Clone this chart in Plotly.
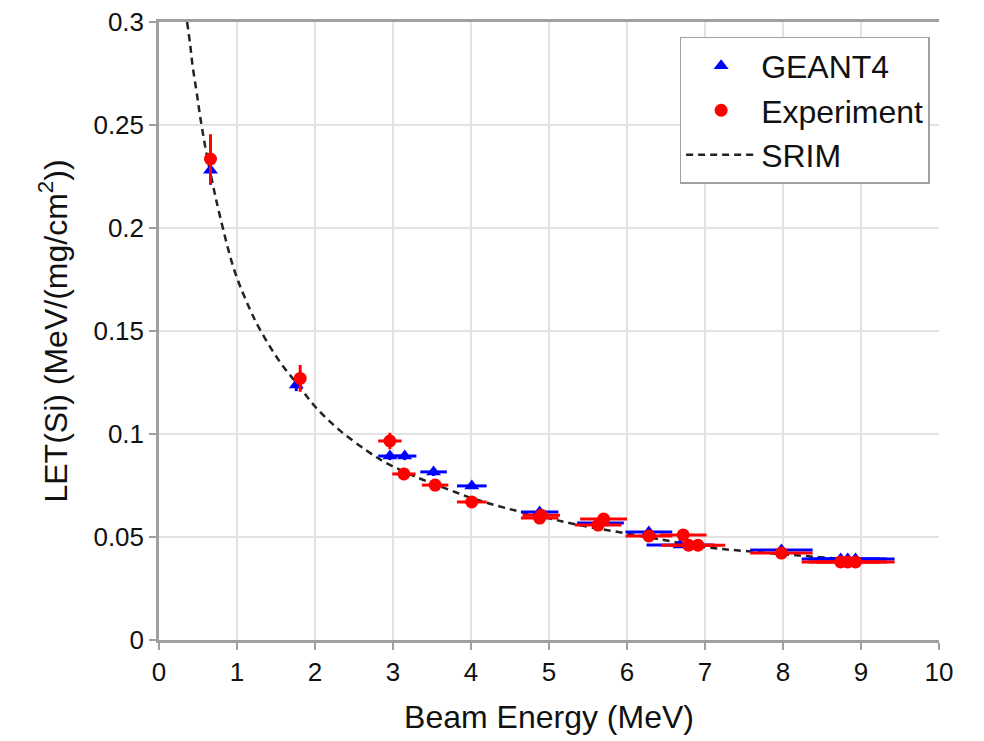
import plotly.graph_objects as go

# SRIM curve
srim_e = [0.36, 0.40, 0.43, 0.49, 0.52, 0.59, 0.68, 0.78, 0.97, 1.16, 1.29, 1.55, 1.80, 2.02, 2.31,
          2.66, 2.91, 3.33, 3.68, 4.01, 4.44, 4.99, 5.38, 5.89, 6.40, 7.00, 7.51, 8.21, 8.60, 9.00]
srim_let = [0.300, 0.289, 0.279, 0.264, 0.256, 0.240, 0.223, 0.206, 0.179, 0.161, 0.151, 0.135, 0.123,
            0.1125, 0.102, 0.092, 0.086, 0.0786, 0.0735, 0.0689, 0.0641, 0.0592, 0.0558, 0.0524,
            0.0490, 0.0451, 0.0432, 0.0410, 0.0398, 0.0385]

# Experiment
exp_e = [0.66, 1.81, 2.96, 3.14, 3.54, 4.01, 4.88, 4.90, 5.63, 5.70, 6.28, 6.72, 6.79, 6.91, 7.98, 8.74, 8.83, 8.93]
exp_let = [0.2335, 0.127, 0.0966, 0.0806, 0.0752, 0.067, 0.0592, 0.0605, 0.0558, 0.0587, 0.0505, 0.051,
           0.046, 0.046, 0.0422, 0.0379, 0.0379, 0.0379]
exp_xerr = [0.03, 0.05, 0.15, 0.15, 0.17, 0.19, 0.24, 0.24, 0.30, 0.30, 0.30, 0.30, 0.35, 0.35, 0.40, 0.50, 0.50, 0.50]
exp_yerr = [0.012, 0.0065, 0.004, 0.003, 0.003, 0.0025, 0.002, 0.002, 0.002, 0.002, 0.0018, 0.0018,
            0.0015, 0.0015, 0.0015, 0.0012, 0.0012, 0.0012]

# GEANT4
g4_e = [0.66, 1.76, 2.96, 3.15, 3.52, 4.01, 4.88, 5.66, 6.28, 6.68, 7.98, 8.74, 8.83, 8.93]
g4_let = [0.228, 0.1238, 0.0893, 0.0893, 0.0816, 0.0748, 0.0621, 0.0568, 0.0524, 0.0461, 0.0437,
          0.0393, 0.0393, 0.0393]
g4_xerr = [0.02, 0.04, 0.15, 0.15, 0.17, 0.19, 0.24, 0.30, 0.30, 0.43, 0.40, 0.50, 0.50, 0.50]
g4_yerr = [0.007, 0.003, 0.002, 0.002, 0.002, 0.0015, 0.0015, 0.0012, 0.001, 0.001, 0.001, 0.001, 0.001, 0.001]

FONT = "Liberation Sans, Arial, sans-serif"

fig = go.Figure()
fig.add_trace(go.Scatter(
    x=srim_e, y=srim_let, mode="lines", name="SRIM", legendrank=3,
    line=dict(color="#222222", width=2.5, dash="7px,5px", shape="spline", smoothing=1.0),
))
fig.add_trace(go.Scatter(
    x=g4_e, y=g4_let, mode="markers", name="GEANT4", legendrank=1,
    marker=dict(symbol="triangle-up", size=13, color="#0000ff"),
    error_x=dict(type="data", array=g4_xerr, color="#0000ff", thickness=3, width=0),
    error_y=dict(type="data", array=g4_yerr, color="#0000ff", thickness=3, width=0),
))
fig.add_trace(go.Scatter(
    x=exp_e, y=exp_let, mode="markers", name="Experiment", legendrank=2,
    marker=dict(symbol="circle", size=13, color="#ff0000"),
    error_x=dict(type="data", array=exp_xerr, color="#ff0000", thickness=3, width=0),
    error_y=dict(type="data", array=exp_yerr, color="#ff0000", thickness=3, width=0),
))

fig.update_layout(
    width=976, height=733,
    margin=dict(l=151, r=45, t=14, b=101, autoexpand=False),
    paper_bgcolor="white", plot_bgcolor="white",
    font=dict(family=FONT, size=26, color="#111111"),
    showlegend=True,
    legend=dict(
        x=0.988, y=0.976, xanchor="right", yanchor="top",
        bgcolor="white", bordercolor="#a0a0a0", borderwidth=1.5,
        font=dict(family=FONT, size=32, color="#111111"),
        itemwidth=70, tracegroupgap=0,
    ),
    xaxis=dict(
        range=[0, 10], dtick=1, tick0=0,
        showgrid=True, gridcolor="#e3e3e3", gridwidth=1.5,
        showline=True, linecolor="#a0a0a0", linewidth=2.5, mirror=True,
        ticks="outside", ticklen=7, tickcolor="#a0a0a0", tickwidth=2,
        zeroline=False, ticklabeloverflow="allow",
        title=dict(text="Beam Energy (MeV)", font=dict(size=32), standoff=20),
        tickfont=dict(size=26),
    ),
    yaxis=dict(
        range=[0, 0.3], dtick=0.05, tick0=0,
        showgrid=True, gridcolor="#e3e3e3", gridwidth=1.5,
        showline=True, linecolor="#a0a0a0", linewidth=2.5, mirror=False,
        ticks="outside", ticklen=7, tickcolor="#a0a0a0", tickwidth=2,
        zeroline=False, ticklabeloverflow="allow",
        title=dict(text="LET(Si) (MeV/(mg/cm<sup>2</sup>))", font=dict(size=32), standoff=17),
        tickfont=dict(size=26),
    ),
)

fig.write_html("out.html")
